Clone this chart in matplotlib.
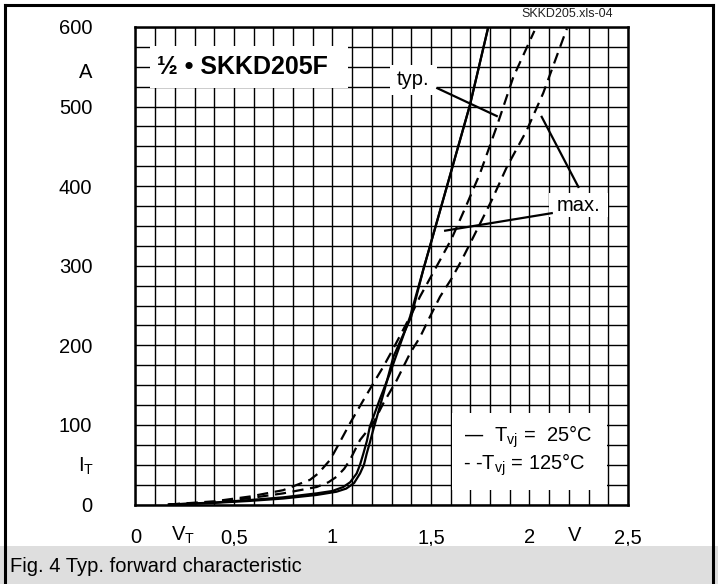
import matplotlib
matplotlib.use("Agg")
import matplotlib.pyplot as plt
from matplotlib.patches import Rectangle

plt.rcParams['font.family'] = ['Liberation Sans', 'DejaVu Sans']
plt.rcParams['mathtext.default'] = 'regular'

# ---- data (V_T in V, I_T in A) ----
typ25_v = [0.17, 0.40, 0.58, 0.75, 0.92, 1.00, 1.055, 1.09, 1.123, 1.14, 1.157, 1.175, 1.19, 1.24, 1.292, 1.394,
           1.461, 1.499, 1.538, 1.698, 1.791]
typ25_i = [0, 2.5, 5.6, 9, 14, 17, 22, 28, 39, 50, 64, 80, 98, 132, 165, 236,
           295, 328, 362, 502, 600]

max25_v = [0.17, 0.40, 0.58, 0.75, 0.92, 1.02, 1.07, 1.11, 1.14, 1.16, 1.174, 1.19, 1.205, 1.26, 1.31, 1.40,
           1.461, 1.499, 1.538, 1.698, 1.791]
max25_i = [0, 2.0, 4.5, 7.5, 12, 16, 20, 27, 39, 50, 64, 78, 92, 140, 186, 236,
           295, 328, 362, 502, 600]

typ125_v = [0.17, 0.40, 0.58, 0.75, 0.886, 0.928, 0.988, 1.039, 1.089, 1.157, 1.207, 1.258, 1.309, 1.411, 1.444,
            1.495, 1.546, 1.605, 1.673, 1.749, 1.834, 1.918, 2.025]
typ125_i = [0, 4, 10, 18, 31, 39, 56, 79, 102, 131, 152, 173, 196, 244, 261,
            284, 307, 334, 372, 416, 475, 537, 595]

max125_v = [0.17, 0.40, 0.58, 0.75, 0.92, 0.98, 1.022, 1.06, 1.089, 1.14, 1.207, 1.258, 1.326, 1.394, 1.444, 1.495,
            1.546, 1.605, 1.656, 1.707, 1.808, 1.885, 1.986, 2.07, 2.172, 2.19]
max125_i = [0, 3, 8, 14, 22, 28, 35, 45, 56, 81, 102, 127, 156, 190, 210, 236,
            261, 284, 307, 332, 382, 424, 470, 517, 586, 598]

x_ticks = [0, 0.5, 1, 1.5, 2, 2.5]
x_labels = ['0', '0,5', '1', '1,5', '2', '2,5']
y_ticks = [0, 100, 200, 300, 400, 500, 600]
y_labels = ['0', '100', '200', '300', '400', '500', '600']

fig = plt.figure(figsize=(7.18, 5.84), dpi=100)

# outer frame and caption band (figure coords)
band_h = 38 / 584
fig.patches.append(Rectangle((0, 0), 1, band_h, transform=fig.transFigure,
                             facecolor='#dedede', edgecolor='none', zorder=0))
fig.add_artist(plt.Line2D([5/718, 5/718], [0, 1 - 5/584], transform=fig.transFigure, color='black', lw=2.2))
fig.add_artist(plt.Line2D([713/718, 713/718], [0, 1 - 5/584], transform=fig.transFigure, color='black', lw=2.2))
fig.add_artist(plt.Line2D([5/718, 713/718], [1 - 5/584, 1 - 5/584], transform=fig.transFigure, color='black', lw=2.2))

fig.text(10/718, 18/584, 'Fig. 4 Typ. forward characteristic', fontsize=14.5, va='center', ha='left')
fig.text(567/718, 570/584, 'SKKD205.xls-04', fontsize=9, va='center', ha='center', color='#222222')

ax = fig.add_axes([135.4/718, 79.5/584, 492.6/718, 477.6/584])
ax.set_xlim(0, 2.5)
ax.set_ylim(0, 600)

ax.set_xticks(x_ticks)
ax.set_xticklabels(x_labels)
ax.set_yticks(y_ticks)
ax.set_yticklabels(y_labels)
ax.set_xticks([i * 0.1 for i in range(26)], minor=True)
ax.set_yticks([i * 25 for i in range(25)], minor=True)
ax.tick_params(which='both', length=0)
ax.tick_params(axis='x', pad=17, labelsize=14.5)
ax.tick_params(axis='y', pad=31, labelsize=14.5)
ax.grid(which='both', color='black', lw=1.0)
ax.set_axisbelow(True)
for s in ax.spines.values():
    s.set_linewidth(1.8)
    s.set_zorder(5)

# white label boxes hiding the grid
for (x0, y0, x1, y1) in [(0.075, 523.5, 1.08, 576.5), (1.29, 514, 1.53, 552),
                         (2.10, 361, 2.40, 391), (1.605, 18, 2.395, 115)]:
    ax.add_patch(Rectangle((x0, y0), x1 - x0, y1 - y0, facecolor='white', edgecolor='none', zorder=1))

lw = 1.6
dash = (0, (5, 3))
ax.plot(typ25_v, typ25_i, color='black', lw=lw, zorder=3)
ax.plot(max25_v, max25_i, color='black', lw=lw, zorder=3)
ax.plot(typ125_v, typ125_i, color='black', lw=lw, ls=dash, zorder=3)
ax.plot(max125_v, max125_i, color='black', lw=lw, ls=dash, zorder=3)

# pointer lines
ax.plot([1.532, 1.834], [523, 488], color='black', lw=1.6, zorder=3)
ax.plot([2.062, 2.248], [487, 399], color='black', lw=1.6, zorder=3)
ax.plot([2.113, 1.572], [366, 344], color='black', lw=1.6, zorder=3)

ax.text(0.11, 550, '½ • SKKD205F', fontsize=18, fontweight='bold', va='center', ha='left', zorder=4)
ax.text(1.41, 534, 'typ.', fontsize=14.5, va='center', ha='center', zorder=4)
ax.text(2.25, 376, 'max.', fontsize=14.5, va='center', ha='center', zorder=4)
ax.text(1.665, 85, '—  T$_{vj}$ =  25°C', fontsize=14.5, va='center', ha='left', zorder=4)
ax.text(1.665, 50, '- -T$_{vj}$ = 125°C', fontsize=14.5, va='center', ha='left', zorder=4)

# axis quantity labels
ax.text(-0.25, 543, 'A', fontsize=14.5, va='center', ha='center', clip_on=False)
ax.text(-0.25, 48, 'I$_T$', fontsize=14.5, va='center', ha='center', clip_on=False)
ax.text(0.24, -39, 'V$_T$', fontsize=14.5, va='center', ha='center', clip_on=False)
ax.text(2.23, -39, 'V', fontsize=14.5, va='center', ha='center', clip_on=False)

fig.savefig('out.png', dpi=100)
